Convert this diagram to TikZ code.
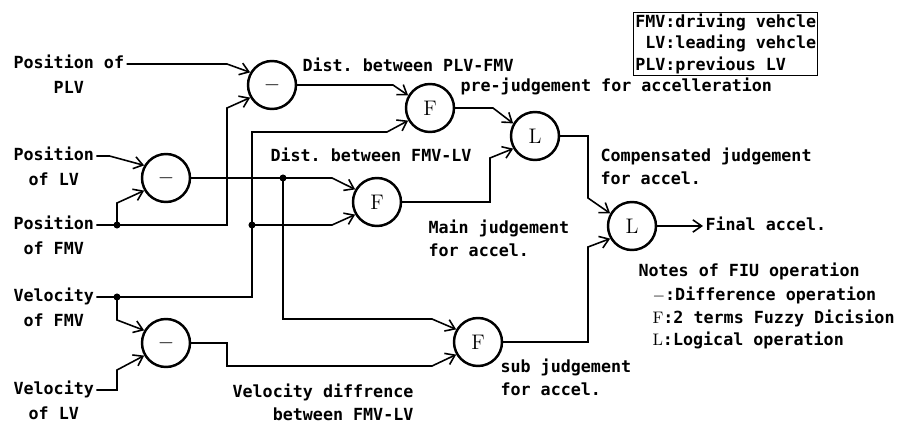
\documentclass[tikz,border=0pt]{standalone}
\usepackage{fontspec}
\setmonofont{DejaVu Sans Mono}
\usetikzlibrary{arrows.meta,positioning}

\begin{document}
\begin{tikzpicture}[x=0.02cm,y=-0.02cm,line width=0.9pt,
  >={Straight Barb[length=5pt,width=7pt]},
  fiu/.style={circle,draw,line width=1.4pt,minimum size=0.96cm,inner sep=0pt,font=\large},
  txt/.style={font=\fontsize{9.5}{13}\selectfont\ttfamily\bfseries,inner sep=1pt},
  lbl/.style={txt,text height=7.5pt,text depth=2pt}]
\useasboundingbox (0,0) rectangle (907,422);

\node[fiu] (m1) at (272,85) {$-$};
\node[fiu] (m2) at (166,178) {$-$};
\node[fiu] (m3) at (166,343) {$-$};
\node[fiu] (f1) at (430,108) {F};
\node[fiu] (f2) at (377,202) {F};
\node[fiu] (f3) at (478,342) {F};
\node[fiu] (l1) at (535,136) {L};
\node[fiu] (l2) at (632,226) {L};

\node[lbl,anchor=west] (pplv) at (11,64) {Position of};
\node[lbl,below=1.5pt of pplv] (pplvb) {PLV};
\node[lbl,anchor=west] (plv) at (11,156) {Position};
\node[lbl,below=1.5pt of plv] (plvb) {of LV};
\node[lbl,anchor=west] (pfmv) at (11,225) {Position};
\node[lbl,below=1.5pt of pfmv] (pfmvb) {of FMV};
\node[lbl,anchor=west] (vfmv) at (11,297) {Velocity};
\node[lbl,below=1.5pt of vfmv] (vfmvb) {of FMV};
\node[lbl,anchor=west] (vlv) at (11,390) {Velocity};
\node[lbl,below=1.5pt of vlv] (vlvb) {of LV};

\coordinate (jpf) at (117,225);
\coordinate (jvf) at (117,297);
\coordinate (jvel) at (252,225);
\coordinate (jdl) at (283,178);

\draw[->] (pplv.east) -- (227,64) -- (m1.150);
\draw[->] (plv.east) -- ++(13,0) -- (m2.150);
\draw[->] (pfmv.east) -- (jpf) -- (227,225) -- (227,108) -- (m1.210);
\draw[->] (jpf) -- (117,203) -- (m2.210);
\draw[->] (vfmv.east) -- (jvf) -- (252,297) -- (jvel) -- (252,132) -- (387,132) -- (f1.210);
\draw[->] (jvel) -- (332,225) -- (f2.210);
\draw[->] (jvf) -- (117,320) -- (m3.150);
\draw[->] (vlv.east) -- (117,390) -- (117,370) -- (m3.210);
\draw[->] (m1) -- (393,85) -- (f1.150);
\draw[->] (m2) -- (jdl) -- (332,178) -- (f2.150);
\draw[->] (jdl) -- (283,319) -- (432,319) -- (f3.150);
\draw[->] (m3) -- (227,343) -- (227,366) -- (432,366) -- (f3.210);
\draw[->] (f1) -- (493,108) -- (l1.150);
\draw[->] (f2) -- (490,202) -- (490,158) -- (l1.210);
\draw[->] (l1) -- (588,136) -- (588,198) -- (l2.150);
\draw[->] (f3) -- (588,342) -- (588,247) -- (l2.210);
\foreach \j in {jpf,jvf,jvel,jdl}
  \fill (\j) circle (2pt);

\node[lbl,anchor=west] (final) at (703,226) {Final accel.};
\draw[->] (l2) -- (final);

\node[lbl,anchor=west] (dpf) at (300,67) {Dist. between PLV-FMV};
\node[lbl,anchor=west] (pja) at (458,87) {pre-judgement for accelleration};
\node[lbl,anchor=west] (dfl) at (268,157) {Dist. between FMV-LV};
\node[txt,align=left,anchor=west] (cjl) at (598,166) {Compensated judgement\\for accel.};
\node[txt,align=left,anchor=west] (mjl) at (426,238) {Main judgement\\for accel.};
\node[txt,align=left,anchor=west] (sjl) at (498,377) {sub judgement\\for accel.};
\node[txt,align=right,anchor=east] (vdl) at (416,402) {Velocity diffrence\\between FMV-LV};

\node[txt,draw,line width=0.6pt,align=left,font=\fontsize{9.5}{12}\selectfont\ttfamily\bfseries,anchor=north west] (legend) at (633,12)
  {FMV:driving vehcle\\\hphantom{P}LV:leading vehcle\\PLV:previous LV};

\node[lbl,anchor=west] (notes) at (636,272) {Notes of FIU operation};
\node[txt,align=left,anchor=west] (notesb) at (650,318)
  {$-$:Difference operation\\{\rmfamily\mdseries F}:2 terms Fuzzy Dicision\\{\rmfamily\mdseries L}:Logical operation};
\end{tikzpicture}
\end{document}
